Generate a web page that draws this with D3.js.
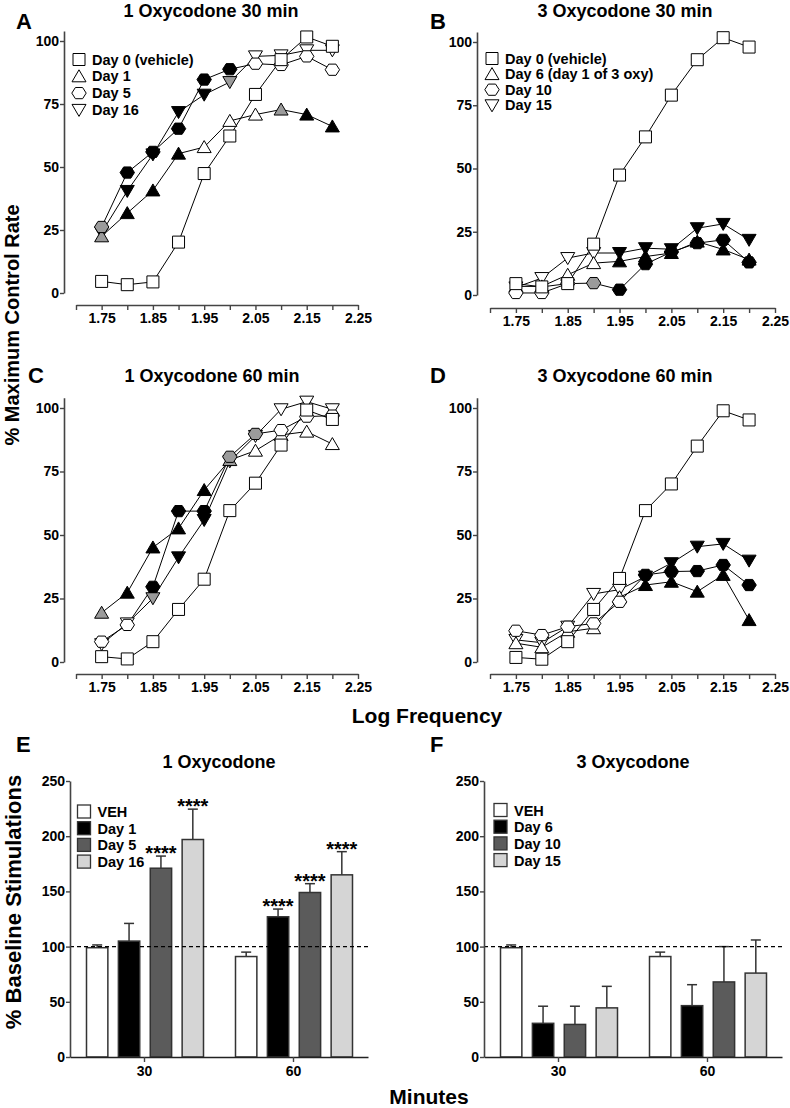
<!DOCTYPE html>
<html><head><meta charset="utf-8">
<script src="https://cdn.jsdelivr.net/npm/d3@7"></script>
<style>
body{margin:0;background:#fff}
svg{display:block}
text{font-family:"Liberation Sans",Arial,Helvetica,sans-serif;font-weight:bold;fill:#000}
</style>
</head><body>
<svg id="c" width="790" height="1108"></svg>
<script>
// ---------- DATA ----------
const freq = [1.75,1.80,1.85,1.90,1.95,2.00,2.05,2.10,2.15,2.20];
const freqTicks = [1.70,1.75,1.80,1.85,1.90,1.95,2.00,2.05,2.10,2.15,2.20,2.25];
const freqLabels = ["1.75","1.85","1.95","2.05","2.15","2.25"];
const pctTicks = [0,25,50,75,100];

// Panel A: 1 Oxycodone 30 min
const aNames = ["Day 0 (vehicle)","Day 1","Day 5","Day 16"];
const aVeh  = [4.6,3.3,4.4,20.2,47.4,62.3,78.8,92.6,101.6,97.9];
const aD1   = [22.5,31.7,40.7,55.3,57.9,68.3,70.8,72.8,70.8,66.1];
const aD1Fill = ["g","k","k","k","w","w","w","g","k","k"];
const aD5   = [26.2,47.8,56.0,65.2,84.7,88.8,91.0,90.5,93.9,88.6];
const aD5Fill = ["g","k","k","k","k","k","w","w","w","w"];
const aD16  = [24.0,40.5,55.0,71.8,78.7,83.7,93.9,94.3,96.3,96.3];
const aD16Fill = ["g","k","k","k","k","g","w","w","w","w"];

// Panel B: 3 Oxycodone 30 min
const bNames = ["Day 0 (vehicle)","Day 6 (day 1 of 3 oxy)","Day 10","Day 15"];
const bVeh  = [4.5,3.2,4.5,20.1,47.4,62.5,79.0,93.0,101.7,98.0];
const bD6   = [3.4,3.4,8.0,12.6,13.3,15.2,16.6,21.1,18.0,14.0];
const bD6Fill = ["w","w","w","w","k","k","k","k","k","k"];
const bD10  = [0.8,0.8,4.5,4.7,2.1,12.2,17.0,20.5,21.8,12.9];
const bD10Fill = ["w","w","w","g","k","k","k","k","k","k"];
const bD15  = [3.0,6.7,14.6,16.6,16.6,18.5,18.1,26.4,28.1,21.8];
const bD15Fill = ["w","w","w","w","k","k","k","k","k","k"];

// Panel C: 1 Oxycodone 60 min
const cVeh  = [2.1,1.2,8.0,20.7,32.6,59.6,70.4,85.4,99.2,95.5];
const cD1   = [19.4,27.3,45.1,52.6,67.7,79.5,83.2,89.4,90.7,85.8];
const cD1Fill = ["g","k","k","k","k","g","w","w","w","w"];
const cD5   = [8.0,14.6,29.6,59.4,59.4,80.8,89.8,91.3,96.6,97.0];
const cD5Fill = ["w","w","k","k","k","g","g","w","w","w"];
const cD16  = [7.0,15.2,25.1,41.2,55.9,79.0,89.0,99.5,102.5,99.5];
const cD16Fill = ["w","w","g","k","k","g","w","w","w","w"];

// Panel D: 3 Oxycodone 60 min
const dVeh  = [1.8,1.1,8.0,20.7,32.9,59.6,70.1,85.0,98.9,95.3];
const dD6   = [7.4,5.8,11.9,13.3,25.5,30.3,31.6,27.7,34.3,16.5];
const dD6Fill = ["w","w","w","w","w","k","k","k","k","k"];
const dD10  = [12.3,10.6,13.9,15.2,23.7,34.3,35.6,35.8,38.2,30.3];
const dD10Fill = ["w","w","w","w","w","k","k","k","k","k"];
const dD15  = [8.7,7.6,13.9,26.8,28.5,33.6,38.9,45.4,46.5,39.9];
const dD15Fill = ["w","w","w","w","w","k","k","k","k","k"];

// Bar panels
const barGroups = ["30","60"];
const stimTicks = [0,50,100,150,200,250];
const eSeries = ["VEH","Day 1","Day 5","Day 16"];
const eMean30 = [99,105,171,197];
const eErr30  = [2.5,16,11,27.5];
const eMean60 = [91,127,149,165];
const eErr60  = [4,7,8,21];
const eSig30  = ["","","****","****"];
const eSig60  = ["","****","****","****"];
const fSeries = ["VEH","Day 6","Day 10","Day 15"];
const fMean30 = [99,30.5,29.5,44.5];
const fErr30  = [2.5,15.5,16.5,19.5];
const fMean60 = [91,46.5,68,76];
const fErr60  = [4,19,32,30];
const fSig30  = ["","","",""];
const fSig60  = ["","","",""];

// ---------- STYLE ----------
const markFill = {w:"#ffffff", k:"#000000", g:"#9b9b9b"};
const barFill = ["#ffffff","#000000","#5b5b5b","#d5d5d5"];
const axisCol = "#444";

function hexPath(r){
  const p = d3.range(6).map(i=>[ (r*Math.cos(i*Math.PI/3)).toFixed(2), (r*0.9*Math.sin(i*Math.PI/3)).toFixed(2)]);
  return "M"+p.map(q=>q.join(",")).join("L")+"Z";
}
const shapes = {
  square:"M-6,-6H6V6H-6Z",
  up:"M0,-6.5L7,5.5L-7,5.5Z",
  down:"M0,6.5L7,-5.5L-7,-5.5Z",
  hex:hexPath(7.2)
};

const svg = d3.select("#c");

function styleAxis(g, fs){
  g.selectAll(".domain").attr("stroke",axisCol).attr("stroke-width",1.6);
  g.selectAll(".tick line").attr("stroke",axisCol).attr("stroke-width",1.4);
  g.selectAll(".tick text").attr("font-size",fs).attr("fill","#000")
    .style("font-family",'"Liberation Sans",Arial,sans-serif').style("font-weight","bold");
}

function linePanel(cfg, series, names){
  const x = d3.scaleLinear().domain([1.70,2.25]).range([cfg.x0,cfg.x1]);
  const top = cfg.y0 - 1.04*(cfg.y0-cfg.y100);
  const y = d3.scaleLinear().domain([0,104]).range([cfg.y0, top]);
  const g = svg.append("g");
  const ya = g.append("g").attr("transform",`translate(${cfg.yAxisX},0)`)
    .call(d3.axisLeft(y).tickValues(pctTicks).tickSize(4).tickSizeOuter(0).tickPadding(1));
  styleAxis(ya,14);
  const xa = g.append("g").attr("transform",`translate(0,${cfg.xAxisY})`)
    .call(d3.axisBottom(x).tickValues(freqTicks).tickSize(5).tickSizeOuter(0).tickPadding(3)
      .tickFormat(d=> freqLabels.includes(d.toFixed(2)) ? d.toFixed(2) : ""));
  styleAxis(xa,14);
  const line = d3.line().x(d=>x(d.f)).y(d=>y(d.v));
  series.forEach(s=>{
    const pts = freq.map((f,i)=>({f, v:s.vals[i]}));
    g.append("path").attr("d",line(pts)).attr("fill","none").attr("stroke","#000").attr("stroke-width",1);
  });
  const order = [3,1,2,0];
  order.forEach(k=>{
    const s = series[k];
    g.selectAll(null).data(freq.map((f,i)=>({f, v:s.vals[i], c:s.fills ? s.fills[i] : "w"})))
      .join("path").attr("d",shapes[s.shape])
      .attr("transform",d=>`translate(${x(d.f)},${y(d.v)})`)
      .attr("fill",d=>markFill[d.c]).attr("stroke","#000").attr("stroke-width",1);
  });
  // legend
  if(names){
    names.forEach((n,i)=>{
      const cy = cfg.legY + i*cfg.legDy;
      g.append("path").attr("d",shapes[series[i].shape]).attr("transform",`translate(${cfg.legX},${cy})`)
        .attr("fill","#fff").attr("stroke","#000").attr("stroke-width",1);
      g.append("text").attr("x",cfg.legX+13).attr("y",cy+5).attr("font-size",14.5).text(n);
    });
  }
  g.append("text").attr("x",cfg.titleX).attr("y",cfg.titleY).attr("text-anchor","middle").attr("font-size",18).text(cfg.title);
  g.append("text").attr("x",cfg.letX).attr("y",cfg.letY).attr("font-size",22).text(cfg.letter);
}

linePanel({x0:76,x1:358,yAxisX:64,y0:293,y100:41,xAxisY:305,legX:79,legY:59.5,legDy:16.8,
  title:"1 Oxycodone 30 min",titleX:211,titleY:17,letter:"A",letX:16,letY:29},
  [{vals:aVeh,shape:"square"},{vals:aD1,fills:aD1Fill,shape:"up"},{vals:aD5,fills:aD5Fill,shape:"hex"},{vals:aD16,fills:aD16Fill,shape:"down"}], aNames);

linePanel({x0:490,x1:775,yAxisX:477,y0:295,y100:42,xAxisY:308,legX:492,legY:58.5,legDy:15.6,
  title:"3 Oxycodone 30 min",titleX:625,titleY:17,letter:"B",letX:430,letY:29},
  [{vals:bVeh,shape:"square"},{vals:bD6,fills:bD6Fill,shape:"up"},{vals:bD10,fills:bD10Fill,shape:"hex"},{vals:bD15,fills:bD15Fill,shape:"down"}], bNames);

linePanel({x0:76,x1:358,yAxisX:64,y0:662,y100:408,xAxisY:674,
  title:"1 Oxycodone 60 min",titleX:212,titleY:382,letter:"C",letX:28,letY:383},
  [{vals:cVeh,shape:"square"},{vals:cD1,fills:cD1Fill,shape:"up"},{vals:cD5,fills:cD5Fill,shape:"hex"},{vals:cD16,fills:cD16Fill,shape:"down"}], null);

linePanel({x0:490,x1:775,yAxisX:477,y0:662,y100:408,xAxisY:674,
  title:"3 Oxycodone 60 min",titleX:625,titleY:382,letter:"D",letX:430,letY:383},
  [{vals:dVeh,shape:"square"},{vals:dD6,fills:dD6Fill,shape:"up"},{vals:dD10,fills:dD10Fill,shape:"hex"},{vals:dD15,fills:dD15Fill,shape:"down"}], null);

// shared labels
svg.append("text").attr("transform","translate(19,325) rotate(-90)").attr("text-anchor","middle").attr("font-size",20).text("% Maximum Control Rate");
svg.append("text").attr("x",427).attr("y",723).attr("text-anchor","middle").attr("font-size",21).text("Log Frequency");

function barPanel(cfg, names, means, errs, sigs){
  const x0 = d3.scaleBand().domain(barGroups).range([cfg.xa,cfg.xb]);
  const x1 = d3.scaleBand().domain(names).range([16.5, x0.bandwidth()-15.5]).paddingInner(0.33).paddingOuter(0);
  const y = d3.scaleLinear().domain([0,250]).range([1057,781]);
  const g = svg.append("g");
  barGroups.forEach((grp,gi)=>{
    names.forEach((n,i)=>{
      const bx = x0(grp)+x1(n), bw = x1.bandwidth(), cx = bx+bw/2;
      const m = means[gi][i], e = errs[gi][i];
      g.append("line").attr("x1",cx).attr("x2",cx).attr("y1",y(m)).attr("y2",y(m+e)).attr("stroke","#333").attr("stroke-width",1.5);
      g.append("line").attr("x1",cx-5).attr("x2",cx+5).attr("y1",y(m+e)).attr("y2",y(m+e)).attr("stroke","#333").attr("stroke-width",1.5);
      g.append("rect").attr("x",bx).attr("y",y(m)).attr("width",bw).attr("height",y(0)-y(m))
        .attr("fill",barFill[i]).attr("stroke","#333").attr("stroke-width",1.5);
      if(sigs[gi][i]) g.append("text").attr("x",cx).attr("y",y(m+e)+4).attr("text-anchor","middle").attr("font-size",20).text(sigs[gi][i]);
    });
  });
  g.append("line").attr("x1",cfg.xa).attr("x2",cfg.xb).attr("y1",y(100)).attr("y2",y(100))
    .attr("stroke","#000").attr("stroke-width",1.2).attr("stroke-dasharray","4,3");
  const ya = g.append("g").attr("transform",`translate(${cfg.xa},0)`)
    .call(d3.axisLeft(y).tickValues(stimTicks).tickSize(4).tickSizeOuter(0).tickPadding(1));
  styleAxis(ya,14);
  const xa = g.append("g").attr("transform",`translate(0,${y(0)})`)
    .call(d3.axisBottom(x0).tickSize(5).tickSizeOuter(0).tickPadding(4));
  styleAxis(xa,14);
  xa.select(".domain").attr("stroke","#222");
  names.forEach((n,i)=>{
    const cy = cfg.legY + i*16.7;
    g.append("rect").attr("x",cfg.legX).attr("y",cy-6.5).attr("width",13).attr("height",13)
      .attr("fill",barFill[i]).attr("stroke","#333").attr("stroke-width",1.3);
    g.append("text").attr("x",cfg.legX+20).attr("y",cy+5.5).attr("font-size",14.5).text(n);
  });
  g.append("text").attr("x",(cfg.xa+cfg.xb)/2).attr("y",768).attr("text-anchor","middle").attr("font-size",18).text(cfg.title);
  g.append("text").attr("x",cfg.letX).attr("y",752).attr("font-size",22).text(cfg.letter);
}

barPanel({xa:70,xb:368,legX:77.5,legY:811.5,title:"1 Oxycodone",letter:"E",letX:16},
  eSeries,[eMean30,eMean60],[eErr30,eErr60],[eSig30,eSig60]);
barPanel({xa:484,xb:782,legX:494,legY:810,title:"3 Oxycodone",letter:"F",letX:430},
  fSeries,[fMean30,fMean60],[fErr30,fErr60],[fSig30,fSig60]);

svg.append("text").attr("transform","translate(21,902) rotate(-90)").attr("text-anchor","middle").attr("font-size",22).text("% Baseline Stimulations");
svg.append("text").attr("x",429).attr("y",1104).attr("text-anchor","middle").attr("font-size",21).text("Minutes");
</script>
</body></html>
